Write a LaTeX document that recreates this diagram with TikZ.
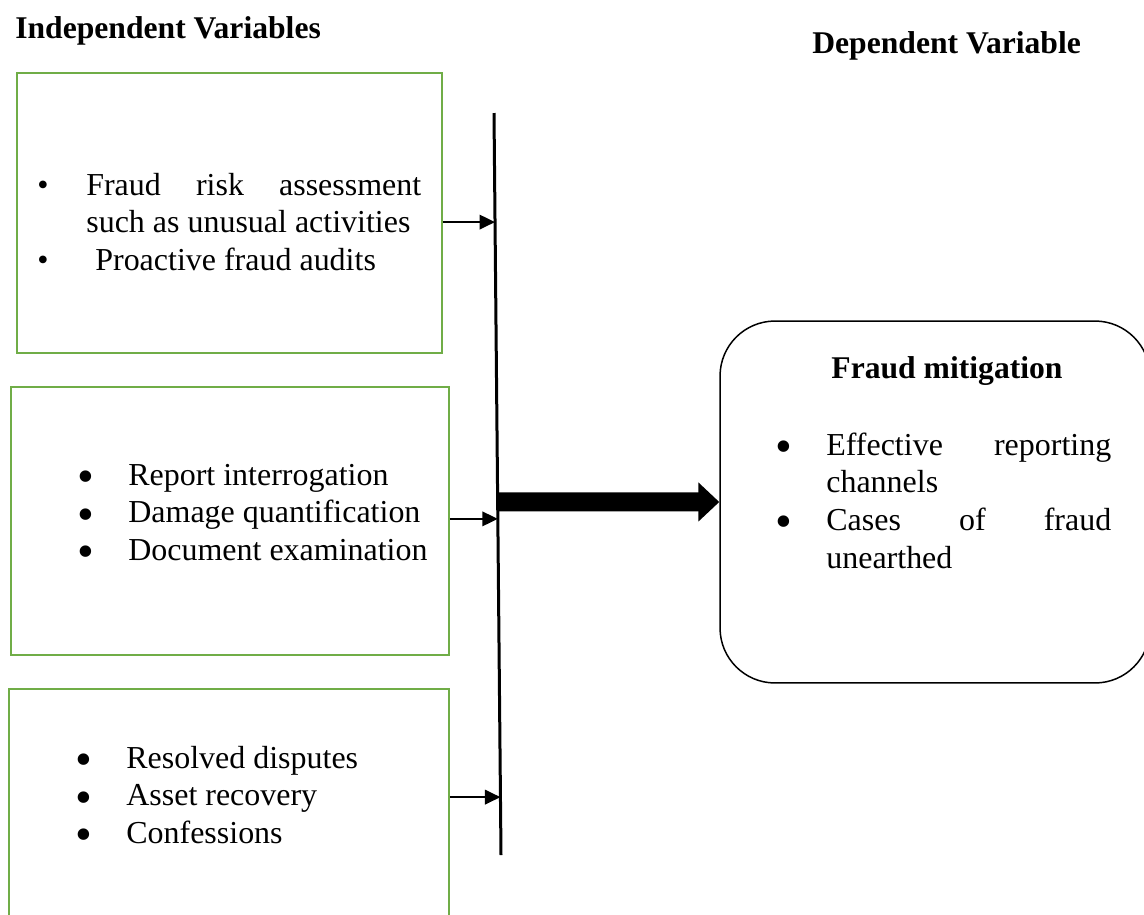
\documentclass[tikz,border=0pt]{standalone}
\usepackage{fontspec}
\setmainfont{Liberation Serif}
\usetikzlibrary{arrows.meta,calc}
\definecolor{boxgreen}{RGB}{112,173,71}
\hyphenpenalty=10000
\exhyphenpenalty=10000
% small bullet (first box) and big bullet (other boxes)
\newcommand{\smallitem}[1]{\noindent\hangindent=0.98cm\hangafter=1\makebox[0.98cm][l]{\textbullet}#1\par}
\newcommand{\bigitem}[1]{\noindent\hangindent=1.01cm\hangafter=1\makebox[1.01cm][l]{\raisebox{-0.23em}{\scalebox{1.5}{\textbullet}}}#1\par}
\begin{document}
\begin{tikzpicture}[x=0.02cm, y=-0.02cm,
    title/.style={anchor=base west, inner sep=0, font=\fontsize{18}{21}\selectfont\bfseries},
    gbox/.style={draw=boxgreen, line width=0.04cm, inner sep=0},
    list/.style={anchor=base west, inner sep=0, align=justify, font=\fontsize{18.2}{21.5}\selectfont},
    feed/.style={line width=0.04cm, -{Triangle[length=0.31cm,width=0.29cm]}}]
  \useasboundingbox (0,0) rectangle (1144,914);
  \clip (0,0) rectangle (1144,914);

  % headings
  \node[title] (indep) at (15,38) {Independent Variables};
  \node[title] (dep) at (812,53) {Dependent Variable};

  % independent variable boxes
  \node[gbox, minimum width=8.5cm, minimum height=5.6cm] (b1) at (229.5,213) {};
  \node[gbox, minimum width=8.76cm, minimum height=5.36cm] (b2) at (230,521) {};
  \node[gbox, minimum width=8.8cm, minimum height=5.42cm] (b3) at (229,824.5) {};

  \node[list, text width=7.68cm] (l1) at (37,195)
    {\smallitem{Fraud risk assessment such as unusual activities}
     \smallitem{\hspace{0.18cm}Proactive fraud audits}};
  \node[list, text width=7.4cm] (l2) at (77.5,485)
    {\bigitem{Report interrogation}
     \bigitem{Damage quantification}
     \bigitem{Document examination}};
  \node[list, text width=7.4cm] (l3) at (75.5,768)
    {\bigitem{Resolved disputes}
     \bigitem{Asset recovery}
     \bigitem{Confessions}};

  % dependent variable box
  \node[draw, line width=0.03cm, rounded corners=1.1cm, minimum width=8.6cm,
        minimum height=7.24cm, inner sep=0] (fm) at (935,502) {};
  \node[anchor=base, inner sep=0, font=\fontsize{18}{21}\selectfont\bfseries]
    (fmt) at (947,378) {Fraud mitigation};
  \node[list, text width=6.71cm] (l4) at (775.5,455)
    {\bigitem{Effective reporting channels}
     \bigitem{Cases of fraud unearthed}};

  % bar
  \coordinate (barT) at (494,113);
  \coordinate (barB) at (501,855);
  \draw[line width=0.06cm] (barT) -- (barB);
  \coordinate (h1) at ($(barT)!0.147!(barB)$);
  \coordinate (h2) at ($(barT)!0.547!(barB)$);
  \coordinate (h3) at ($(barT)!0.922!(barB)$);
  \coordinate (hm) at ($(barT)!0.524!(barB)$);

  \draw[feed] (b1.east |- h1) -- (h1);
  \draw[feed] (b2.east |- h2) -- (h2);
  \draw[feed] (b3.east |- h3) -- (h3);
  \draw[line width=0.38cm, -{Triangle[length=0.42cm,width=0.76cm]}] (hm) -- (fm.west);
\end{tikzpicture}
\end{document}
